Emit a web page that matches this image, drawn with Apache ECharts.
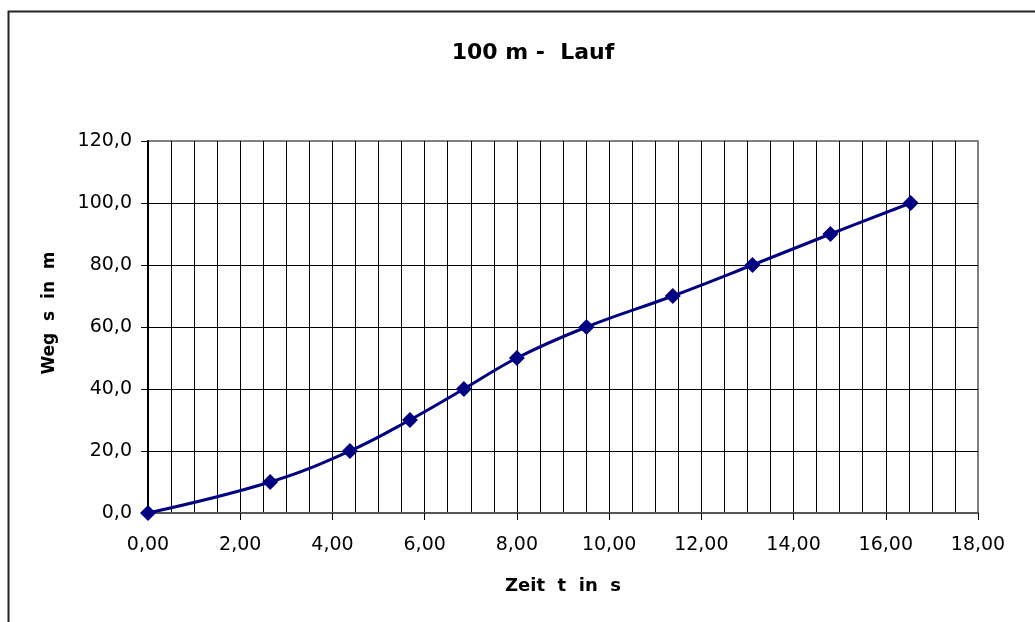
<!DOCTYPE html>
<html>
<head>
<meta charset="utf-8">
<script src="https://cdn.jsdelivr.net/npm/echarts@6/dist/echarts.min.js"></script>
<style>
html,body{margin:0;padding:0;background:#fff;}
#chart{width:1035px;height:622px;}
</style>
</head>
<body>
<div id="chart"></div>
<script>
// Data
var zeit = [0, 2.65, 4.38, 5.68, 6.85, 8.00, 9.51, 11.38, 13.11, 14.80, 16.54];
var weg  = [0, 10, 20, 30, 40, 50, 60, 70, 80, 90, 100];
var titleText = '100 m -  Lauf';
var xAxisTitle = 'Zeit  t  in  s';
var yAxisTitle = 'Weg  s  in  m';

var points = zeit.map(function (t, i) { return [t, weg[i]]; });
var FONT = 'DejaVu Sans';

var chart = echarts.init(document.getElementById('chart'));
chart.setOption({
  backgroundColor: '#fff',
  animation: false,
  title: {
    text: titleText,
    left: 528,
    textAlign: 'center',
    top: 37,
    textStyle: { fontFamily: FONT, fontSize: 22, fontWeight: 'bold', color: '#000' }
  },
  graphic: [{
    type: 'rect',
    shape: { x: 8.5, y: 11.5, width: 1040, height: 640 },
    style: { fill: null, stroke: '#222', lineWidth: 2 },
    silent: true,
    z: -1
  }],
  grid: {
    left: 148, right: 57, top: 141, bottom: 109,
    show: true, borderColor: '#808080', borderWidth: 2, backgroundColor: '#fff'
  },
  xAxis: {
    type: 'value',
    min: 0, max: 18, interval: 2,
    name: xAxisTitle,
    nameLocation: 'middle',
    nameGap: 64,
    nameTextStyle: { fontFamily: FONT, fontSize: 18, fontWeight: 'bold', color: '#000' },
    axisLine: { show: true, onZero: false, lineStyle: { color: '#555', width: 2 } },
    axisTick: { show: true, inside: false, length: 7, lineStyle: { color: '#000', width: 1 } },
    axisLabel: {
      fontFamily: FONT, fontSize: 19, color: '#000', margin: 23,
      formatter: function (v) { return v.toFixed(2).replace('.', ','); }
    },
    splitLine: { show: true, showMaxLine: false, lineStyle: { color: '#000', width: 1 } },
    minorTick: { show: false, splitNumber: 4 },
    minorSplitLine: { show: true, lineStyle: { color: '#000', width: 1 } }
  },
  yAxis: {
    type: 'value',
    min: 0, max: 120, interval: 20,
    name: yAxisTitle,
    nameLocation: 'middle',
    nameGap: 90,
    nameRotate: 90,
    nameTextStyle: { fontFamily: FONT, fontSize: 17, fontWeight: 'bold', color: '#000', padding: [0, 0, 0, 28] },
    axisLine: { show: true, lineStyle: { color: '#000', width: 2 } },
    axisTick: { show: true, inside: false, length: 7, lineStyle: { color: '#000', width: 1 } },
    axisLabel: {
      fontFamily: FONT, fontSize: 19, color: '#000', margin: 16,
      formatter: function (v) { return v.toFixed(1).replace('.', ','); }
    },
    splitLine: { show: true, showMaxLine: false, lineStyle: { color: '#000', width: 1 } }
  },
  series: [{
    type: 'line',
    data: points,
    smooth: 0.4,
    symbol: 'diamond',
    symbolSize: 16,
    clip: false,
    lineStyle: { color: '#000080', width: 3 },
    itemStyle: { color: '#000080' },
    z: 5
  }]
});
</script>
</body>
</html>
